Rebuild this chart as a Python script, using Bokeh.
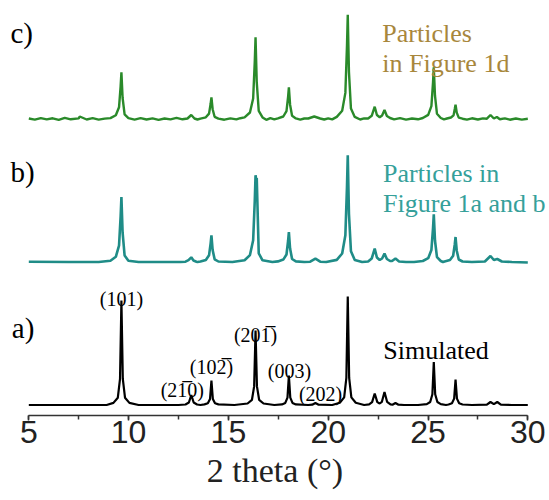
from bokeh.plotting import figure
from bokeh.models import Range1d, SingleIntervalTicker, Label
from bokeh.embed import file_html
from bokeh.resources import INLINE

# ---------------- data (2 theta in degrees, intensity in arbitrary units) -------------
# a) simulated pattern
sim_x = [5.0, 8.9,
         9.24, 9.46, 9.57, 9.64, 9.71, 9.82, 10.04,
         10.5, 12.5,
         12.85, 13.02, 13.14, 13.26, 13.43,
         13.6,
         13.8, 13.97, 14.08, 14.15, 14.22, 14.33, 14.5,
         15.3,
         15.96, 16.18, 16.29, 16.36, 16.43, 16.54, 16.76,
         17.3,
         17.68, 17.85, 17.96, 18.03, 18.10, 18.21, 18.38,
         19.0, 19.2, 19.36, 19.52, 20.2,
         20.58, 20.80, 20.91, 20.98, 21.05, 21.16, 21.38,
         21.8,
         22.05, 22.2, 22.33, 22.46, 22.58, 22.69, 22.82, 22.95, 23.12,
         23.22, 23.37, 23.52, 23.8, 24.5,
         24.94, 25.11, 25.22, 25.29, 25.36, 25.47, 25.64,
         25.9,
         26.03, 26.2, 26.31, 26.38, 26.45, 26.56, 26.73,
         27.2, 27.95, 28.13, 28.3, 28.47, 28.65, 29.2, 30.0]
sim_y = [0, 0,
         2.1, 7.3, 26.1, 104.5, 26.1, 7.3, 2.1,
         0, 0,
         0.5, 2.5, 10, 2.5, 0.5,
         0,
         0.6, 1.7, 6.1, 24.5, 6.1, 1.7, 0.6,
         0,
         1.5, 5.2, 18.6, 74.5, 18.6, 5.2, 1.5,
         0,
         0.6, 2.1, 7.4, 29.5, 7.4, 2.1, 0.6,
         0, 0.3, 2, 0.3, 0,
         2.2, 7.6, 27.1, 108.5, 27.1, 7.6, 2.2,
         0,
         0.6, 2.9, 11.5, 2.9, 1.5, 3.2, 13, 3.2, 0.6,
         0.3, 2, 0.3, 0, 0,
         0.9, 3, 10.8, 43, 10.8, 3, 0.9,
         0,
         0.5, 1.8, 6.4, 25.5, 6.4, 1.8, 0.5,
         0, 0.3, 3, 0.8, 3, 0.3, 0, 0]

# b) particles in Figure 1a and b
pab_x = [5.0, 7.0, 8.5,
         9.09, 9.36, 9.52, 9.60, 9.64, 9.70, 9.80, 9.99,
         10.5, 12.6,
         12.85, 13.0, 13.14, 13.25, 13.4,
         13.45,
         13.6, 13.87, 14.03, 14.11, 14.15, 14.21, 14.31, 14.5,
         15.2,
         15.81, 16.08, 16.24, 16.32, 16.36, 16.39, 16.42, 16.52, 16.71,
         17.2,
         17.48, 17.75, 17.91, 17.99, 18.03, 18.09, 18.19, 18.38,
         18.8, 19.1, 19.36, 19.6, 19.9,
         20.43, 20.70, 20.86, 20.94, 20.98, 21.04, 21.14, 21.33,
         21.7,
         22.0, 22.18, 22.33, 22.44, 22.58, 22.7, 22.82, 22.94, 23.1,
         23.2, 23.37, 23.55, 23.9, 24.3,
         24.74, 25.01, 25.17, 25.25, 25.29, 25.35, 25.45, 25.64,
         25.75,
         25.83, 26.10, 26.26, 26.34, 26.38, 26.44, 26.54, 26.73,
         27.2, 27.85, 28.13, 28.3, 28.47, 28.7, 29.2, 30.0]
pab_y = [0.3, 0, 0,
         1.3, 5.2, 16.3, 45.5, 65, 29.3, 6.5, 1.3,
         0, 0,
         0.3, 1.8, 4.7, 1.5, 0.3,
         0,
         0.5, 2.1, 6.7, 18.7, 26.7, 12, 2.7, 0.5,
         0,
         1.7, 6.9, 21.7, 60.7, 86.7, 83, 84, 8.7, 1.7,
         0,
         0.6, 2.4, 7.5, 21, 30, 13.5, 3, 0.6,
         0, 0.3, 3.4, 0.3, 0,
         2.1, 8.5, 26.7, 74.7, 106.7, 48, 10.7, 2.1,
         0,
         0.5, 3.5, 13.4, 4.5, 2.0, 3.5, 8.4, 3, 1,
         1, 3.5, 0.5, 0, 0,
         1, 3.8, 11.9, 33.4, 47.7, 21.5, 4.8, 1,
         0,
         0.5, 2, 6.3, 17.5, 25, 11.3, 2.5, 0.5,
         0, 0.5, 6, 2, 3, 0.5, 0, -0.5]

# c) particles in Figure 1d (noisy measurement)
pd_x = [5.0, 5.3, 5.6, 5.9, 6.2, 6.5, 6.8, 7.1, 7.5, 7.55, 7.9, 8.2, 8.5, 8.8,
        9.09, 9.36, 9.52, 9.60, 9.64, 9.70, 9.80, 9.99,
        10.3, 10.6, 10.9, 11.2, 11.5, 11.8, 12.1, 12.4, 12.7,
        12.95, 13.14, 13.3,
        13.45,
        13.6, 13.87, 14.03, 14.11, 14.15, 14.21, 14.31, 14.5,
        14.8, 15.1, 15.4, 15.6,
        15.81, 16.08, 16.24, 16.32, 16.36, 16.42, 16.52, 16.71,
        16.9, 17.1, 17.3,
        17.48, 17.75, 17.91, 17.99, 18.03, 18.09, 18.19, 18.38,
        18.6, 18.8,
        19.0, 19.3, 19.6,
        19.8, 20.0, 20.2,
        20.43, 20.70, 20.86, 20.94, 20.98, 21.04, 21.14, 21.33,
        21.6, 21.8,
        22.0, 22.18, 22.33, 22.44, 22.58, 22.7, 22.82, 22.94, 23.1,
        23.3, 23.6, 23.9, 24.2, 24.5,
        24.74, 25.01, 25.17, 25.25, 25.29, 25.35, 25.45, 25.64,
        25.8,
        25.95, 26.15, 26.28, 26.34, 26.38, 26.44, 26.54, 26.73,
        26.95, 27.2, 27.5, 27.75,
        27.95, 28.13, 28.3, 28.45, 28.6,
        28.85, 29.1, 29.4, 29.7, 30.0]
pd_y = [0.5, -0.6, 0.9, -0.4, 0.7, -0.8, 1.2, -0.3, 0.6, 2.5, -0.5, 0.8, -0.6, 0.4,
        0.9, 3.7, 11.7, 32.7, 46.7, 21, 4.7, 0.9,
        -0.6, 0.8, -0.5, 0.6, -0.9, 0.5, -0.4, 1.1, -0.3,
        0.5, 4, 0.5,
        -0.5,
        0.4, 1.7, 5.4, 15.2, 21.7, 9.8, 2.2, 0.4,
        -0.7, 0.6, -0.4, 0.8,
        1.6, 6.5, 20.4, 57.2, 81.7, 36.8, 8.2, 1.6,
        -0.8, 0.9, -0.4,
        0.6, 2.5, 7.9, 22.2, 31.7, 14.3, 3.2, 0.6,
        -0.6, 0.5,
        0.5, 2.5, 0.5,
        -0.5, 0.7, -0.4,
        2.1, 8.3, 26.1, 73, 104.3, 46.9, 10.4, 2.1,
        -0.5, 0.6,
        0.5, 3.2, 12.3, 4, 1.8, 3.5, 9, 3, 1,
        -0.4, 0.9, -0.6, 0.5, -0.3,
        1, 4.1, 12.9, 36.2, 51.7, 23.3, 5.2, 1,
        -0.4,
        0.5, 1.5, 3.6, 10, 14.3, 6.4, 1.4, 0.3,
        -0.6, 0.7, -0.5, 0.6,
        0.3, 4, 0.5, 2, -0.3,
        0.6, -0.7, 0.5, -0.6, 0.2]

# text content
axis_bounds = (5, 30)
hkl_labels = ["(101)", "(21\u03050)", "(102\u0305)", "(201\u0305)", "(003)", "(202)"]
hkl_x = [9.64, 12.69, 14.15, 16.36, 18.06, 19.62]
hkl_y = [117, 26, 49, 81, 45, 22]

# ---------------- layout / style constants ----------------
OFF_A, OFF_B, OFF_C = 10.5, 153.5, 296.5
SERIF = "Liberation Serif"

p = figure(width=549, height=500, output_backend="svg", toolbar_location=None,
           x_range=Range1d(3.582, 31.087), y_range=Range1d(0, 415),
           y_axis_location=None,
           min_border_left=0, min_border_right=0, min_border_top=0,
           min_border_bottom=85, outline_line_color=None,
           background_fill_color="white", border_fill_color="white")
p.grid.visible = False

p.line(sim_x, [v + OFF_A for v in sim_y], line_color="black", line_width=2.2)
p.line(pab_x, [v + OFF_B for v in pab_y], line_color="#1f8c87", line_width=2.6)
p.line(pd_x, [v + OFF_C for v in pd_y], line_color="#2a8a2a", line_width=2.4)

ax = p.xaxis[0]
ax.bounds = axis_bounds
ax.ticker = SingleIntervalTicker(interval=5, num_minor_ticks=2)
ax.axis_line_color = "#333333"
ax.axis_line_width = 1.5
ax.major_tick_line_color = "#333333"
ax.minor_tick_line_color = "#333333"
ax.major_tick_line_width = 1.5
ax.minor_tick_line_width = 1.5
ax.major_tick_in = 0
ax.major_tick_out = 5
ax.minor_tick_in = 0
ax.minor_tick_out = 4
ax.major_label_text_font = "Liberation Sans"
ax.major_label_text_font_size = "32px"
ax.major_label_text_color = "#222222"
ax.major_label_standoff = 0
ax.axis_label = "2 theta (\u00b0)"
ax.axis_label_text_font = SERIF
ax.axis_label_text_font_style = "normal"
ax.axis_label_text_font_size = "34px"
ax.axis_label_text_color = "#222222"
ax.axis_label_standoff = 6


def add_text(x, y, t, size, color="black", align="left", font=SERIF):
    p.add_layout(Label(x=x, y=y, text=t, text_font=font, text_font_size=size,
                       text_color=color, text_align=align, text_baseline="alphabetic"))


# panel letters
add_text(4.08, 383, "c)", "29px")
add_text(4.08, 243.3, "b)", "29px")
add_text(4.15, 87.3, "a)", "29px")

# sample descriptions
add_text(22.71, 382.5, "Particles", "26px", color="#a8873c")
add_text(22.71, 351.7, "in Figure 1d", "26px", color="#a8873c")
add_text(22.75, 242.3, "Particles in", "26px", color="#35a09a")
add_text(22.75, 212.3, "Figure 1a and b", "26px", color="#35a09a")
add_text(22.76, 65, "Simulated", "26px")

# Miller indices
for hx, hy, ht in zip(hkl_x, hkl_y, hkl_labels):
    add_text(hx, hy, ht, "20px", align="center")

open("out.html", "w").write(file_html(p, INLINE))
